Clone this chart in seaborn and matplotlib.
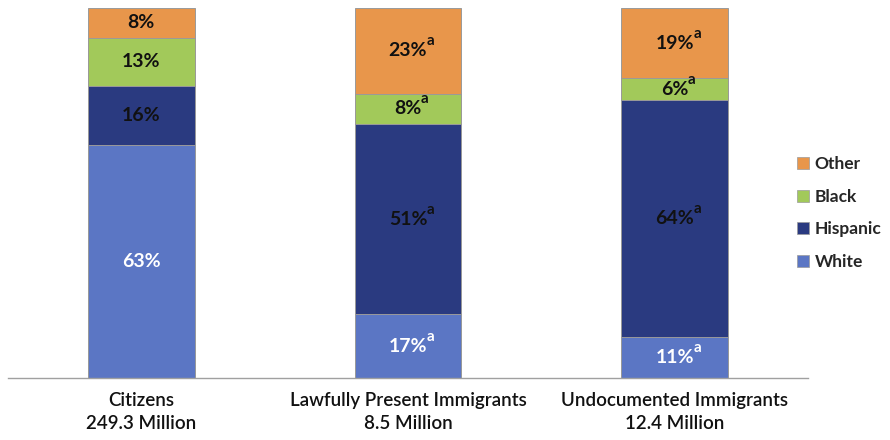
import matplotlib
matplotlib.use("Agg")
import matplotlib.pyplot as plt
import seaborn as sns
import pandas as pd
import numpy as np
from matplotlib.patches import Patch

categories = ["Citizens\n249.3 Million", "Lawfully Present Immigrants\n8.5 Million", "Undocumented Immigrants\n12.4 Million"]
series = ["White", "Hispanic", "Black", "Other"]
white = [63, 17, 11]
hispanic = [16, 51, 64]
black = [13, 8, 6]
other = [8, 23, 19]
superscript = [False, True, True]
colors = {"White": "#5B76C4", "Hispanic": "#2A3A80", "Black": "#A2C95A", "Other": "#E8964B"}
label_colors = {"White": "white", "Hispanic": "#111111", "Black": "#111111", "Other": "#111111"}

sns.set_theme(style="white")
plt.rcParams["font.family"] = ["Lato", "DejaVu Sans"]

vals = np.array([white, hispanic, black, other], dtype=float)
totals = vals.sum(axis=0)
norm = vals / totals * 100
cum = np.cumsum(norm, axis=0)

fig = plt.figure(figsize=(8.9, 4.4), dpi=100)
ax = fig.add_axes([8/890, 1-378/440, 800/890, 370/440])

for i in range(len(series)-1, -1, -1):
    df = pd.DataFrame({"cat": categories, "val": cum[i]})
    sns.barplot(data=df, x="cat", y="val", color=colors[series[i]], width=0.4,
                edgecolor="#9a9a9a", linewidth=0.7, saturation=1, ax=ax, zorder=2)

ax.set_ylim(0, 100)
ax.set_xlim(-0.5, 2.5)
ax.set_xlabel("")
ax.set_ylabel("")
ax.set_yticks([])
for sp in ["left", "right", "top"]:
    ax.spines[sp].set_visible(False)
ax.spines["bottom"].set_color("#a0a0a0")
ax.spines["bottom"].set_linewidth(1.0)
ax.set_xticks(range(3))
ax.set_xticklabels(categories, fontsize=13.5, fontweight="semibold", color="#111111", linespacing=1.45)
ax.tick_params(axis="x", which="major", length=0, pad=10)
ax.set_xticks([-0.5, 0.5, 1.5, 2.5], minor=True)
ax.tick_params(axis="x", which="minor", length=8, width=1.0, color="#a0a0a0", direction="out")

raw = [white, hispanic, black, other]
texts = []
for i, s in enumerate(series):
    for j in range(len(categories)):
        y = cum[i][j] - norm[i][j] / 2
        t = ax.text(j, y, f"{raw[i][j]}%", ha="center", va="center", fontsize=14, fontweight="bold",
                    color=label_colors[s], zorder=5)
        if superscript[j]:
            texts.append((t, label_colors[s]))

fig.canvas.draw()
renderer = fig.canvas.get_renderer()
for t, c in texts:
    bb = t.get_window_extent(renderer)
    x0, y0 = ax.transData.inverted().transform((bb.x1 - 0.5, bb.y1 + 1))
    ax.text(x0, y0, "a", ha="left", va="center", fontsize=11, fontweight="bold", color=c, zorder=5)

handles = [Patch(facecolor=colors[s], edgecolor="#9a9a9a", linewidth=0.5, label=s) for s in reversed(series)]
fig.legend(handles=handles, loc="center left", bbox_to_anchor=(797/890, 1-213/440), frameon=False,
           prop={"weight": "bold", "size": 12.5}, handlelength=0.7, handleheight=0.7,
           handletextpad=0.3, labelspacing=0.95, borderpad=0, borderaxespad=0)

fig.savefig("out.png", dpi=100)
